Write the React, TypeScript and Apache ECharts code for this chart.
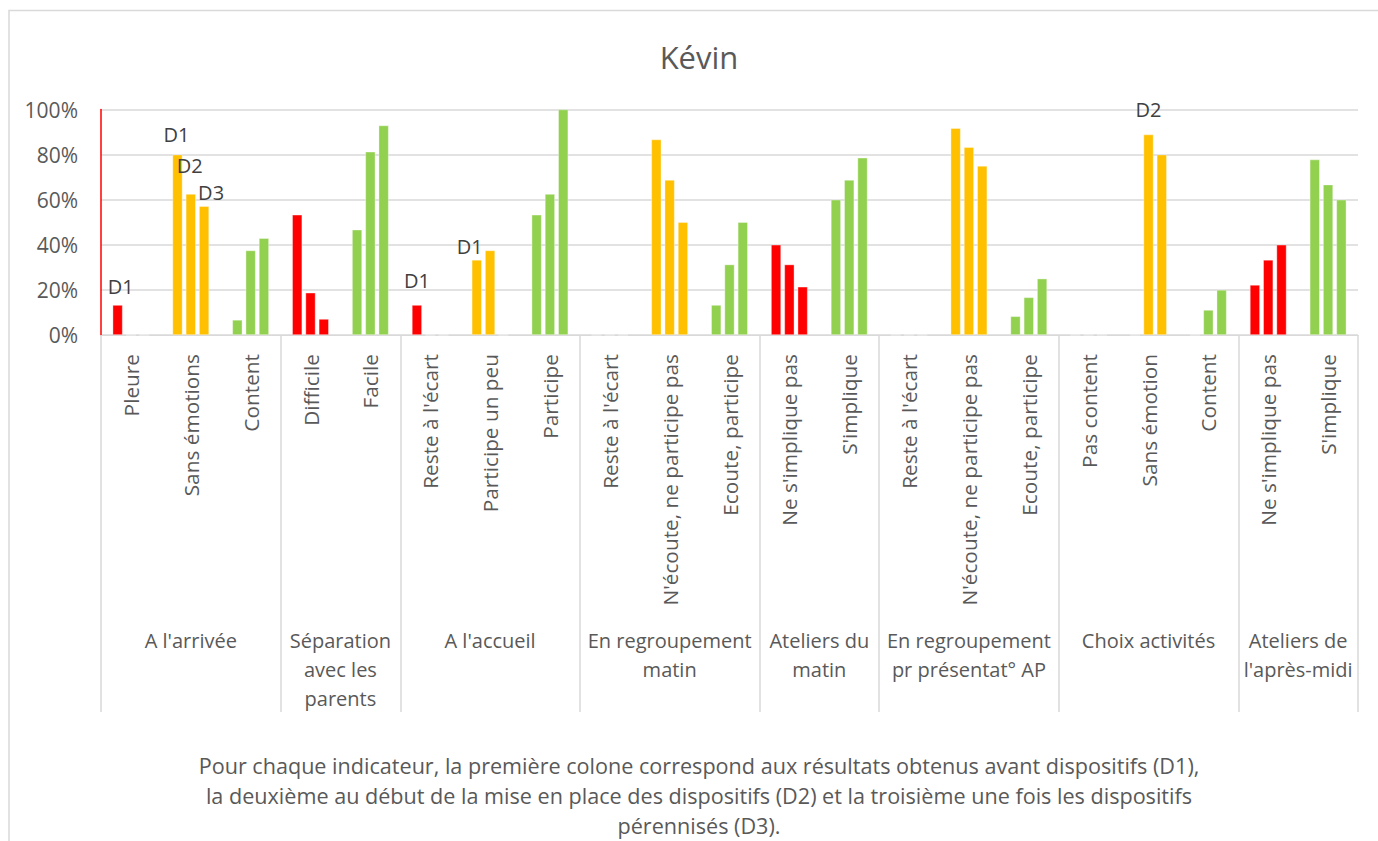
import React, { useEffect, useRef } from "react";
import * as echarts from "echarts";

const categories = [
  "Pleure", "Sans émotions", "Content",
  "Difficile", "Facile",
  "Reste à l'écart", "Participe un peu", "Participe",
  "Reste à l'écart", "N'écoute, ne participe pas", "Ecoute, participe",
  "Ne s'implique pas", "S'implique",
  "Reste à l'écart", "N'écoute, ne participe pas", "Ecoute, participe",
  "Pas content", "Sans émotion", "Content",
  "Ne s'implique pas", "S'implique",
];

const categoryTone = [
  "neg", "mid", "pos",
  "neg", "pos",
  "neg", "mid", "pos",
  "neg", "mid", "pos",
  "neg", "pos",
  "neg", "mid", "pos",
  "neg", "mid", "pos",
  "neg", "pos",
];

const groupNames = [
  "A l'arrivée",
  "Séparation\navec les\nparents",
  "A l'accueil",
  "En regroupement\nmatin",
  "Ateliers du\nmatin",
  "En regroupement\npr présentat° AP",
  "Choix activités",
  "Ateliers de\nl'après-midi",
];
const groupSizes = [3, 2, 3, 3, 2, 3, 3, 2];

const seriesNames = ["D1", "D2", "D3"];
const d1 = [13.3, 80, 6.7, 53.3, 46.7, 13.3, 33.3, 53.3, 0, 86.7, 13.3, 40, 60, 0, 91.7, 8.3, 0, 0, 0, 22.2, 77.8];
const d2 = [0, 62.5, 37.5, 18.75, 81.25, 0, 37.5, 62.5, 0, 68.75, 31.25, 31.25, 68.75, 0, 83.3, 16.7, 0, 88.9, 11.1, 33.3, 66.7];
const d3 = [0, 57.1, 42.9, 7.1, 92.9, 0, 0, 100, 0, 50, 50, 21.4, 78.6, 0, 75, 25, 0, 80, 20, 40, 60];
const seriesValues = [d1, d2, d3];

// which bars carry a series-name label
const labelledBars = [
  { series: 0, index: 0 },
  { series: 0, index: 1 },
  { series: 1, index: 1 },
  { series: 2, index: 1 },
  { series: 0, index: 5 },
  { series: 0, index: 6 },
  { series: 1, index: 17 },
];
const labelOffsets = [[3, -4], [-1, -5], [-1, -14], [7, 1], [0, -10], [-7, 2], [0, -10]];

const yTicks = [0, 20, 40, 60, 80, 100];

const footerLines = [
  "Pour chaque indicateur, la première colone correspond aux résultats obtenus avant dispositifs (D1),",
  "la deuxième au début de la mise en place des dispositifs (D2) et la troisième une fois les dispositifs",
  "pérennisés (D3).",
];

const toneColor: Record<string, string> = { neg: "#FF0000", mid: "#FFC000", pos: "#92D050" };
const FONT = "Open Sans";
const TEXT = "#595959";
const GRID = "#d9d9d9";

export default function App() {
  const ref = useRef<HTMLDivElement>(null);
  useEffect(() => {
    if (!ref.current) return;
    const chart = echarts.init(ref.current, undefined, { renderer: "svg" });

    const bounds: number[] = [0];
    const centers: number[] = [];
    groupSizes.forEach((s) => {
      const start = bounds[bounds.length - 1];
      centers.push(start + s / 2);
      bounds.push(start + s);
    });

    const series = seriesValues.map((vals, si) => ({
      name: seriesNames[si],
      type: "bar",
      xAxisIndex: 0,
      yAxisIndex: 0,
      barWidth: 10,
      barGap: "33%",
      data: vals.map((v, i) => {
        const li = labelledBars.findIndex((l) => l.series === si && l.index === i);
        const item: any = {
          value: v,
          itemStyle: { color: toneColor[categoryTone[i]], borderColor: "rgba(255,255,255,0.6)", borderWidth: 0.6 },
        };
        if (li >= 0) {
          item.label = {
            show: true,
            position: "top",
            formatter: seriesNames[si],
            offset: labelOffsets[li],
            fontFamily: FONT,
            fontSize: 20,
            color: "#404040",
          };
        }
        return item;
      }),
    }));

    chart.setOption({
      animation: false,
      grid: { left: 93, top: 101.5, width: 1257, height: 225.5, containLabel: false },
      xAxis: [
        {
          type: "category",
          data: categories,
          axisLine: { show: true, lineStyle: { color: GRID, width: 1 } },
          axisTick: { show: false },
          axisLabel: {
            interval: 0,
            rotate: 90,
            margin: 19,
            fontFamily: FONT,
            fontSize: 20.8,
            color: TEXT,
          },
        },
        {
          type: "value",
          position: "bottom",
          min: 0,
          max: categories.length,
          axisLine: { show: false },
          splitLine: { show: false },
          axisTick: {
            show: true,
            customValues: bounds,
            length: 377,
            lineStyle: { color: GRID, width: 1.5 },
          },
          axisLabel: {
            customValues: centers,
            margin: 291,
            fontFamily: FONT,
            fontSize: 20,
            lineHeight: 29,
            color: TEXT,
            formatter: (v: number) => {
              const k = centers.indexOf(v);
              return k >= 0 ? groupNames[k] : "";
            },
          },
        },
      ],
      yAxis: {
        type: "value",
        min: 0,
        max: 100,
        interval: 20,
        axisLine: { show: true, lineStyle: { color: "#FF0000", width: 1.5 } },
        axisTick: { show: false },
        splitLine: { lineStyle: { color: GRID, width: 1.5 } },
        axisLabel: {
          margin: 23,
          fontFamily: FONT,
          fontSize: 21,
          color: TEXT,
          formatter: (v: number) => (yTicks.includes(v) ? v + "%" : ""),
        },
      },
      series,
      graphic: [
        {
          type: "rect",
          silent: true,
          shape: { x: 1, y: 2.5, width: 1500, height: 1000 },
          style: { fill: "none", stroke: GRID, lineWidth: 1.5 },
        },
        {
          type: "text",
          x: 691,
          y: 49,
          style: {
            text: "Kévin",
            fontFamily: FONT,
            fontSize: 31,
            fill: TEXT,
            align: "center",
            verticalAlign: "middle",
          },
        },
        {
          type: "text",
          x: 691,
          y: 742,
          style: {
            text: footerLines.join("\n"),
            fontFamily: FONT,
            fontSize: 21.6,
            lineHeight: 30,
            fill: TEXT,
            align: "center",
            verticalAlign: "top",
          },
        },
      ],
    });
    return () => chart.dispose();
  }, []);
  return (
    <div
      ref={ref}
      style={{ position: "absolute", left: 8, top: 8, width: 1370, height: 833 }}
    />
  );
}
